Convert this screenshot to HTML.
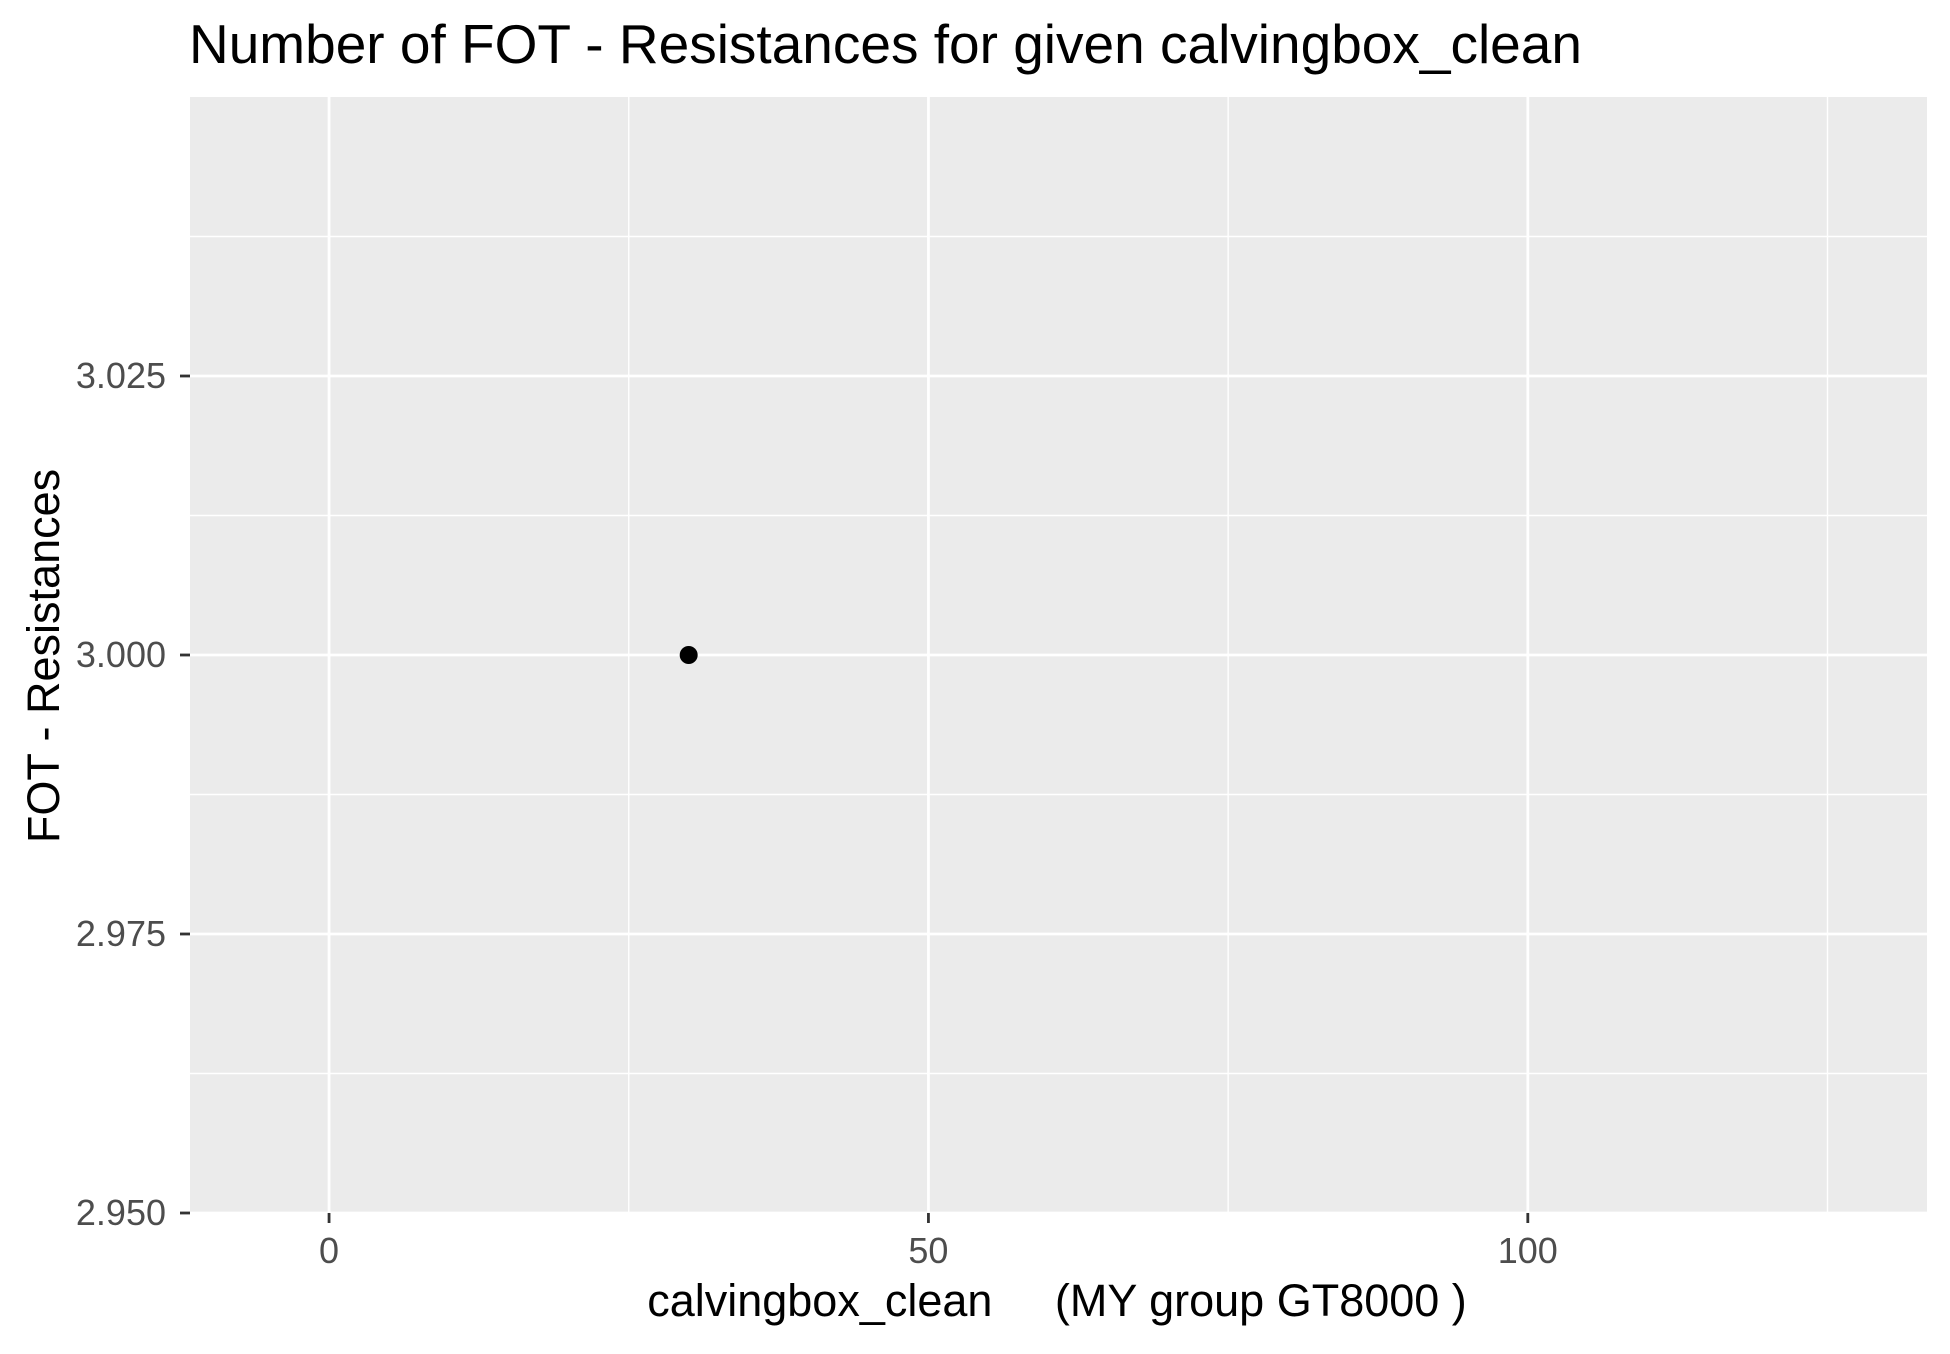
<!DOCTYPE html>
<html><head><meta charset="utf-8"><style>
body{margin:0;background:#fff}
svg text{font-family:"Liberation Sans",Arial,sans-serif}
</style></head><body>
<svg width="1950" height="1349" xmlns="http://www.w3.org/2000/svg">
<text x="189" y="63" font-size="55" fill="#000">Number of FOT - Resistances for given calvingbox_clean</text>
<rect x="190" y="97" width="1737" height="1116" fill="#ebebeb"/>
<g id="grid"></g>
<g id="axes"></g>
<g id="marks"></g>
<text x="1057" y="1316" font-size="45" fill="#000" text-anchor="middle" xml:space="preserve">calvingbox_clean     (MY group GT8000 )</text>
<text transform="translate(59,656) rotate(-90)" font-size="45" fill="#000" text-anchor="middle">FOT - Resistances</text>
</svg>
<script>
const xTicks=[0,50,100];
const yTicks=[2.95,2.975,3.0,3.025];
const yTickLabels=["2.950","2.975","3.000","3.025"];
const pointX=[30];
const pointY=[3.0];
const L=190,R=1927,T=97,B=1213;
const xMin=-11.6,xMax=133.3,yMin=2.95,yMax=3.05;
const sx=v=>L+(v-xMin)/(xMax-xMin)*(R-L);
const sy=v=>B-(v-yMin)/(yMax-yMin)*(B-T);
const NS="http://www.w3.org/2000/svg";
function mk(t,a,p){const e=document.createElementNS(NS,t);for(const k in a)e.setAttribute(k,a[k]);p.appendChild(e);return e;}
const grid=document.getElementById('grid'),axes=document.getElementById('axes'),marks=document.getElementById('marks');
for(let i=0;i<xTicks.length;i++){const m=xTicks[i]+25;if(m<xMax){const l=mk('line',{x1:sx(m),x2:sx(m),y1:T,y2:B,stroke:'#fff','stroke-width':1.4},grid);

}}
for(let i=0;i<yTicks.length;i++){const m=yTicks[i]+0.0125;if(m<yMax){const l=mk('line',{x1:L,x2:R,y1:sy(m),y2:sy(m),stroke:'#fff','stroke-width':1.4},grid);

}}
xTicks.forEach(v=>{const x=sx(v);
const g=mk('line',{x1:x,x2:x,y1:T,y2:B,stroke:'#fff','stroke-width':2.8},grid);


const t=mk('line',{x1:x,x2:x,y1:B,y2:B+10,stroke:'#333','stroke-width':2.8},axes);


const tx=mk('text',{x:x,y:B+50,'font-size':36,fill:'#4d4d4d','text-anchor':'middle'},axes);tx.textContent=String(v);

});
yTicks.forEach((v,i)=>{const y=sy(v);
const g=mk('line',{x1:L,x2:R,y1:y,y2:y,stroke:'#fff','stroke-width':2.8},grid);


const t=mk('line',{x1:L-10,x2:L,y1:y,y2:y,stroke:'#333','stroke-width':2.8},axes);


const tx=mk('text',{x:L-24,y:y+12,'font-size':36,fill:'#4d4d4d','text-anchor':'end'},axes);tx.textContent=yTickLabels[i];

});
pointX.forEach((v,i)=>{const c=mk('circle',{cx:sx(v),cy:sy(pointY[i]),r:9,fill:'#000'},marks);

});
</script>
</body></html>
